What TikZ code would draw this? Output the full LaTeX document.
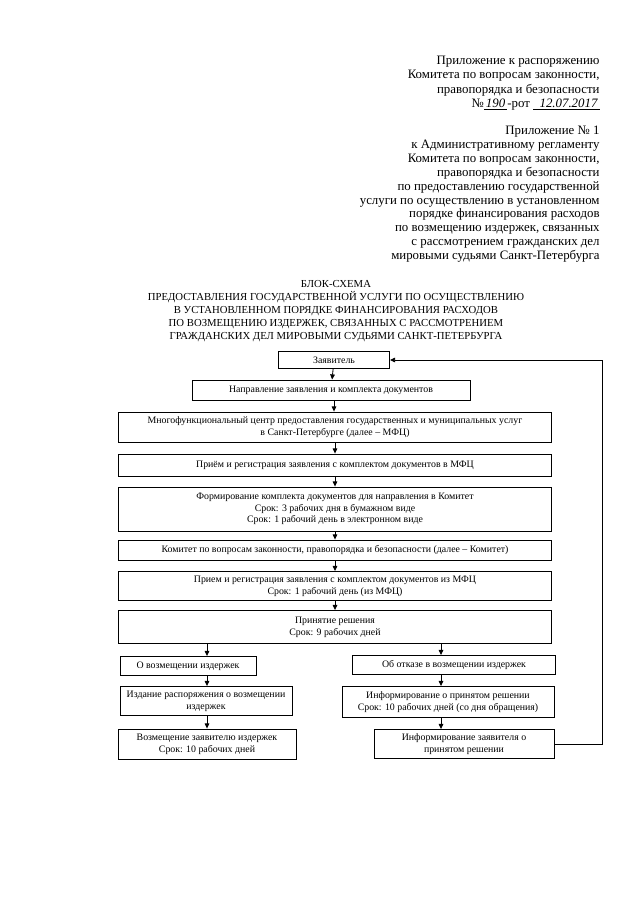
\documentclass[tikz,border=0pt]{standalone}
\usepackage{fontspec}
\setmainfont{Liberation Serif}
\usetikzlibrary{arrows.meta}
\newlength\px
\setlength\px{0.0328cm}

\begin{document}
\begin{tikzpicture}[x=1\px,y=-1\px,line width=.8pt,
  box/.style={draw,align=center,inner sep=1pt,font=\fontsize{9.2}{11}\selectfont},
  arr/.style={-{Triangle[length=1.7mm,width=1.5mm]}}]
\useasboundingbox (0,0) rectangle (640,905);
% шапка
\node[anchor=north east,align=right,inner sep=0pt,font=\fontsize{12}{13.2}\selectfont] (rasp) at (600,56)
  {Приложение к распоряжению\\Комитета по вопросам законности,\\правопорядка и безопасности\\
   №\underline{\itshape\,190\,}-рот \underline{\itshape\ \ 12.07.2017\,}};
\node[anchor=north east,align=right,inner sep=0pt,font=\fontsize{12}{12.9}\selectfont] (regl) at (600,126)
  {Приложение № 1\\к Административному регламенту\\Комитета по вопросам законности,\\
   правопорядка и безопасности\\по предоставлению государственной\\
   услуги по осуществлению в установленном\\порядке финансирования расходов\\
   по возмещению издержек, связанных\\с рассмотрением гражданских дел\\
   мировыми судьями Санкт-Петербурга};
\node[anchor=north,align=center,inner sep=0pt,font=\fontsize{10}{12.2}\selectfont] (title) at (336,280)
  {БЛОК-СХЕМА\\ПРЕДОСТАВЛЕНИЯ ГОСУДАРСТВЕННОЙ УСЛУГИ ПО ОСУЩЕСТВЛЕНИЮ\\
   В УСТАНОВЛЕННОМ ПОРЯДКЕ ФИНАНСИРОВАНИЯ РАСХОДОВ\\
   ПО ВОЗМЕЩЕНИЮ ИЗДЕРЖЕК, СВЯЗАННЫХ С РАССМОТРЕНИЕМ\\
   ГРАЖДАНСКИХ ДЕЛ МИРОВЫМИ СУДЬЯМИ САНКТ-ПЕТЕРБУРГА};
% блоки
\node[box,minimum width=111\px,minimum height=17\px] (zayav) at (334,360) {Заявитель};
\node[box,minimum width=278\px,minimum height=20\px] (napr) at (331,390)
  {Направление заявления и комплекта документов};
\node[box,minimum width=433\px,minimum height=30\px] (mfc) at (335,427)
  {Многофункциональный центр предоставления государственных и муниципальных услуг\\
   в Санкт-Петербурге (далее -- МФЦ)};
\node[box,minimum width=433\px,minimum height=22\px] (priem) at (335,465)
  {Приём и регистрация заявления с комплектом документов в МФЦ};
\node[box,minimum width=433\px,minimum height=44\px] (form) at (335,509)
  {Формирование комплекта документов для направления в Комитет\\
   Срок: 3 рабочих дня в бумажном виде\\Срок: 1 рабочий день в электронном виде};
\node[box,minimum width=433\px,minimum height=20\px] (komitet) at (335,550)
  {Комитет по вопросам законности, правопорядка и безопасности (далее -- Комитет)};
\node[box,minimum width=433\px,minimum height=29\px] (priem2) at (335,586)
  {Прием и регистрация заявления с комплектом документов из МФЦ\\Срок: 1 рабочий день (из МФЦ)};
\node[box,minimum width=433\px,minimum height=33\px] (resh) at (335,627)
  {Принятие решения\\Срок: 9 рабочих дней};
\node[box,minimum width=136\px,minimum height=19\px] (ovozm) at (188,666)
  {О возмещении издержек};
\node[box,minimum width=203\px,minimum height=19\px] (otkaz) at (454,665)
  {Об отказе в возмещении издержек};
\node[box,minimum width=172\px,minimum height=29\px] (izdan) at (206,701)
  {Издание распоряжения о возмещении\\издержек};
\node[box,minimum width=212\px,minimum height=31\px] (inform) at (448,702)
  {Информирование о принятом решении\\Срок: 10 рабочих дней (со дня обращения)};
\node[box,minimum width=178\px,minimum height=30\px] (vozm) at (207,744)
  {Возмещение заявителю издержек\\Срок: 10 рабочих дней};
\node[box,minimum width=180\px,minimum height=29\px] (infzayav) at (464,744)
  {Информирование заявителя о\\принятом решении};
\coordinate (lft) at (207,0);
\coordinate (rgt) at (441,0);
\coordinate (loop) at (602,0);
% стрелки
\draw[arr] (zayav) -- (napr);
\draw[arr] (napr.south -| zayav) -- (mfc.north -| zayav);
\draw[arr] (mfc) -- (priem);
\draw[arr] (priem) -- (form);
\draw[arr] (form) -- (komitet);
\draw[arr] (komitet) -- (priem2);
\draw[arr] (priem2) -- (resh);
\draw[arr] (resh.south -| lft) -- (ovozm.north -| lft);
\draw[arr] (ovozm.south -| lft) -- (izdan.north -| lft);
\draw[arr] (izdan.south -| lft) -- (vozm.north -| lft);
\draw[arr] (resh.south -| rgt) -- (otkaz.north -| rgt);
\draw[arr] (otkaz.south -| rgt) -- (inform.north -| rgt);
\draw[arr] (inform.south -| rgt) -- (infzayav.north -| rgt);
\draw[arr] (infzayav.east) -- (infzayav.east -| loop) |- (zayav.east);
\end{tikzpicture}
\end{document}
